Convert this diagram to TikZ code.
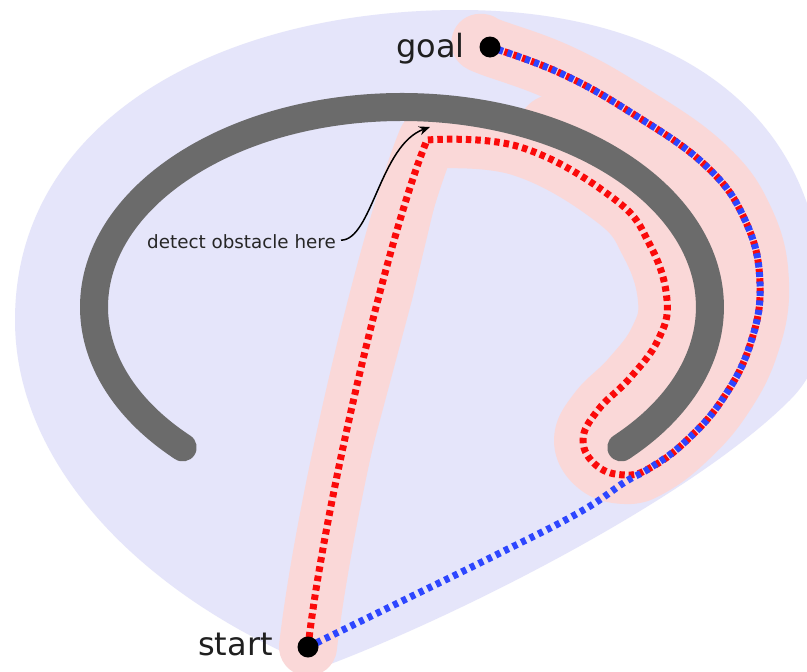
\documentclass[tikz,border=0pt]{standalone}
\usepackage{fontspec}
\newfontfamily\lblfont{DejaVu Sans}
\usetikzlibrary{arrows.meta}
\definecolor{blobc}{RGB}{229,229,250}
\definecolor{pinkc}{RGB}{250,216,216}
\definecolor{obstc}{RGB}{107,107,107}
\definecolor{redc}{RGB}{250,10,10}
\definecolor{bluec}{RGB}{45,70,255}
\tikzset{
  pinkband/.style={draw=pinkc, line width=58pt, line cap=round, line join=round},
  obstacle/.style={draw=obstc, line width=28pt, line cap=round},
  redpath/.style={draw=redc, line width=7pt, dash pattern=on 5.5pt off 4pt},
  bluepath/.style={draw=bluec, line width=7pt, dash pattern=on 5pt off 4.5pt},
  dot/.style={circle, fill=black, inner sep=0pt, minimum size=21pt},
  biglabel/.style={font=\lblfont\fontsize{32}{38}\selectfont, text=black!88, inner sep=0pt},
  smalllabel/.style={font=\lblfont\fontsize{18.3}{22}\selectfont, text=black!85, inner sep=0pt},
  pointer/.style={draw=black, line width=1.5pt, -{Stealth[length=11pt,width=9pt]}}
}
\begin{document}
\begin{tikzpicture}[x=1pt,y=-1pt]
\useasboundingbox (0,0) rectangle (807,672);
\clip (0,0) rectangle (807,672);
\fill[white] (0,0) rectangle (807,672);
% free-space blob
\fill[blobc] (320,668) .. controls (150,600) and (15,470) .. (15,320)
  .. controls (15,120) and (220,10) .. (460,10)
  .. controls (660,10) and (800,100) .. (820,260)
  .. controls (830,330) and (820,370) .. (790,400)
  .. controls (690,500) and (450,620) .. (320,668) -- cycle;
% named points
\coordinate (S) at (308,647);
\coordinate (G) at (490,47);
\coordinate (C) at (427,140);
\coordinate (hit) at (430,127);
\coordinate (E1) at (182.7,447.4);
\coordinate (E2) at (556,133.8);
% pink highlight
\path[pinkband] (S) .. controls (325,500) and (390,230) .. (C)
  -- plot[smooth, tension=0.7] coordinates {(C) (520,147) (613,198) (650,245)
  (667,300) (658,340) (630,378) (598,410) (583,440) (597,466) (625,475)
  (650,468) (685,442) (722,400) (750,345) (760,283) (745,220) (705,165) (630,112)
  (560,73) (G) (482,43)};
\fill[pinkc] (410,125) -- (445,125) -- (443,170) -- (412,300) -- (364,480)
  -- (340,480) -- (380,300) -- (405,160) -- cycle;
\path[draw=pinkc, line width=80pt, line cap=round] (E2)
  arc[start angle=60, end angle=-44.6, x radius=308pt, y radius=200pt];
% obstacle
\path[obstacle] (E1) arc[start angle=224.6, end angle=-44.6, x radius=308pt, y radius=200pt];
% red path (bug algorithm)
\path[redpath] (S) .. controls (325,500) and (390,230) .. (C)
  -- plot[smooth, tension=0.7] coordinates {(C) (520,147) (613,198) (650,245)
  (667,300) (658,340) (630,378) (598,410) (583,440) (597,466) (625,475)
  (650,468) (685,442) (722,400) (750,345) (760,283) (745,220) (705,165) (630,112)
  (560,73) (G)};
% blue path
\path[bluepath] plot[smooth, tension=0.7] coordinates {(S) (400,602) (500,553) (580,512)
  (625,482) (650,468) (685,442) (722,400) (750,345) (760,283) (745,220) (705,165) (630,112)
  (560,73) (G)};
% start and goal
\node[dot] (sdot) at (S) {};
\node[dot] (gdot) at (G) {};
\node[biglabel, anchor=base east] (slbl) at (273,655) {start};
\node[biglabel, anchor=base east] (glbl) at (465,57) {goal};
% annotation
\node[smalllabel, anchor=base east] (det) at (336,248) {detect obstacle here};
\draw[pointer] ([xshift=5pt,yshift=1pt]det.east) .. controls (372,240) and (380,145) .. (hit);
\end{tikzpicture}
\end{document}
